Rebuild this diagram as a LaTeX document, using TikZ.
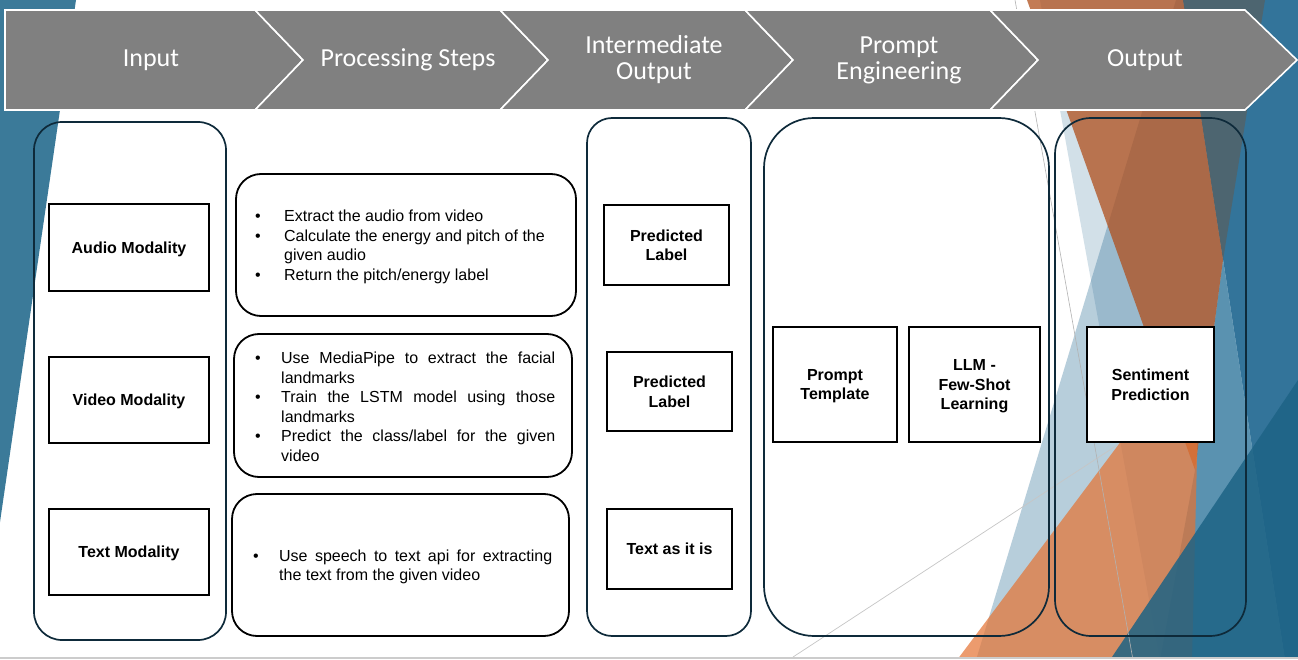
\documentclass[tikz,border=0pt]{standalone}
\usepackage{fontspec}
\setmainfont{Liberation Sans}
\newfontfamily\headfont{Carlito}
\definecolor{hdr}{HTML}{808080}
\definecolor{navy}{HTML}{0E2A3A}
\definecolor{lblue}{HTML}{3B7A99}
\definecolor{bgS}{HTML}{80B2C8}
\definecolor{bgB}{HTML}{35769A}
\definecolor{bgbase}{HTML}{33739A}
\definecolor{bgSlate}{HTML}{4D6570}
\definecolor{bgBB}{HTML}{1D6385}
\definecolor{orA}{rgb}{0.69,0.31,0.11}
\definecolor{orB}{rgb}{0.9,0.45,0.2}
\newcommand{\myitem}[3]{\par\noindent\hangindent=#1\hangafter=1\makebox[#1][l]{\textbullet}#3}
\begin{document}
\begin{tikzpicture}[x=1pt,y=-1pt,
  chev/.style={fill=hdr, draw=white, line width=1.6pt, line join=miter},
  hdrtxt/.style={text=white, font=\headfont\fontsize{26}{26}\selectfont, align=center, inner sep=0pt},
  colbox/.style={draw=navy, line width=1.7pt, rounded corners=#1, inner sep=0pt},
  inbox/.style={draw=black, line width=2pt, fill=white, inner sep=0pt, align=center, text depth=0pt,
     font=\bfseries\fontsize{16}{19.5}\selectfont},
  procbox/.style={draw=black, line width=1.8pt, fill=white, rounded corners=25pt, inner sep=0pt},
  bultxt/.style={anchor=west, inner sep=0pt, font=\fontsize{16}{19.5}\selectfont}]
\useasboundingbox (0,0) rectangle (1298,660);
\fill[white] (0,0) rectangle (1298,660);
% background decoration
\begin{scope}
\clip (0,0) rectangle (1298,657);
\fill[lblue] (0,0) -- (76,0) -- (0,522) -- cycle;
\fill[bgB] (1183,0) -- (1298,0) -- (1298,660) -- (1285,660) -- cycle;
\fill[bgS] (1223,260) -- (1285,660) -- (1160,660) -- (1195,470) -- cycle;
\fill[bgbase, opacity=0.22] (1040,0) -- (1298,0) -- (1298,660) -- (1160,660) -- cycle;
\fill[bgbase, opacity=0.35] (1176,0) -- (1298,0) -- (1298,660) -- (976,660) -- cycle;
\fill[bgSlate] (1183,0) -- (1265,0) -- (1223,260) -- cycle;
\draw[gray!45, line width=0.7pt] (793,657) -- (1125,440);
\fill[orA, opacity=0.75] (1027,0) -- (1183,0) -- (1223,260) -- (1195,470) -- cycle;
\fill[orB, opacity=0.71] (957,660) -- (1200,336) -- (1192,660) -- cycle;
\fill[bgBB, opacity=0.85] (1110,660) -- (1298,380) -- (1298,660) -- cycle;
\draw[gray!60, line width=0.6pt] (1015,0) -- (1133,660);
\end{scope}
\draw[gray!40, line width=1.2pt] (0,658) -- (1298,658);
% header chevrons
\filldraw[chev] (5,10) -- (255,10) -- (303,60) -- (255,110) -- (5,110) -- cycle;
\filldraw[chev] (255,10) -- (500,10) -- (548,60) -- (500,110) -- (255,110) -- (303,60) -- cycle;
\filldraw[chev] (500,10) -- (745,10) -- (793,60) -- (745,110) -- (500,110) -- (548,60) -- cycle;
\filldraw[chev] (745,10) -- (990,10) -- (1038,60) -- (990,110) -- (745,110) -- (793,60) -- cycle;
\filldraw[chev] (990,10) -- (1245,10) -- (1297,60) -- (1245,110) -- (990,110) -- (1038,60) -- cycle;
\node[hdrtxt] (h1) at (151,60) {Input};
\node[hdrtxt] (h2) at (408,60) {Processing Steps};
\node[hdrtxt] (h3) at (654,60) {Intermediate\\Output};
\node[hdrtxt] (h4) at (899,60) {Prompt\\Engineering};
\node[hdrtxt] (h5) at (1145,60) {Output};
% columns
\node[colbox=28pt, minimum width=192pt, minimum height=518pt] (colIn) at (130,381) {};
\node[colbox=25pt, minimum width=164pt, minimum height=518pt] (colMid) at (669,377) {};
\node[colbox=50pt, minimum width=285pt, minimum height=518pt] (colPr) at (906.5,377) {};
\node[colbox=36pt, minimum width=191pt, minimum height=518pt] (colOut) at (1150.5,377) {};
% input boxes
\node[inbox, minimum width=160pt, minimum height=87pt] (audio) at (129,247.5) {Audio Modality};
\node[inbox, minimum width=160pt, minimum height=86pt] (video) at (129,400) {Video Modality};
\node[inbox, minimum width=160pt, minimum height=86pt] (textm) at (129,552) {Text Modality};
% processing boxes
\node[procbox, minimum width=340pt, minimum height=142pt] (p1) at (406,245) {};
\node[procbox, minimum width=338pt, minimum height=143pt] (p2) at (403,405.5) {};
\node[procbox, minimum width=337pt, minimum height=142pt] (p3) at (400.5,565) {};
\node[bultxt] (p1t) at (255,247) {\parbox{300pt}{%
\myitem{29pt}{}{Extract the audio from video}
\myitem{29pt}{}{Calculate the energy and pitch of the\\given audio}
\myitem{29pt}{}{Return the pitch/energy label}}};
\node[bultxt] (p2t) at (255,407) {\parbox{300pt}{%
\myitem{26pt}{}{\makebox[274pt][s]{Use MediaPipe to extract the facial}\\landmarks}
\myitem{26pt}{}{\makebox[274pt][s]{Train the LSTM model using those}\\landmarks}
\myitem{26pt}{}{\makebox[274pt][s]{Predict the class/label for the given}\\video}}};
\node[bultxt] (p3t) at (253,567) {\parbox{299pt}{%
\myitem{26pt}{}{\makebox[273pt][s]{Use speech to text api for extracting}\\the text from the given video}}};
% intermediate output
\node[inbox, minimum width=125pt, minimum height=80pt] (pl1) at (666.5,245) {Predicted\\Label};
\node[inbox, minimum width=125pt, minimum height=79pt] (pl2) at (669.5,391.5) {Predicted\\Label};
\node[inbox, minimum width=125pt, minimum height=80pt] (tai) at (669.5,549) {Text as it is};
% prompt engineering
\node[inbox, minimum width=124pt, minimum height=115pt] (ptemp) at (835,384.5) {Prompt\\Template};
\node[inbox, minimum width=131pt, minimum height=115pt] (llm) at (974.5,384.5) {LLM -\\Few-Shot\\Learning};
% output
\node[inbox, minimum width=127pt, minimum height=115pt] (sent) at (1150.5,384.5) {Sentiment\\Prediction};
\end{tikzpicture}
\end{document}
